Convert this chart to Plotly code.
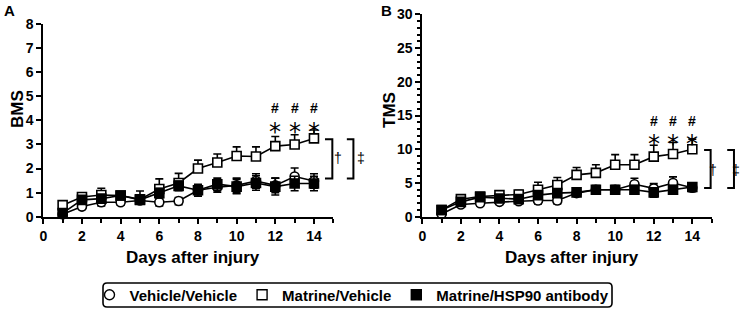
import plotly.graph_objects as go

days = list(range(1, 15))

# Panel A: BMS
bms_veh_veh = [0.1, 0.42, 0.6, 0.6, 0.67, 0.6, 0.65, 1.1, 1.22, 1.3, 1.48, 1.3, 1.67, 1.48]
bms_veh_veh_err = [0.08, 0.12, 0.15, 0.12, 0.15, 0.15, 0.15, 0.2, 0.2, 0.3, 0.3, 0.3, 0.35, 0.3]
bms_mat_veh = [0.48, 0.82, 0.9, 0.88, 0.72, 1.15, 1.4, 2.0, 2.25, 2.52, 2.5, 2.93, 3.0, 3.25]
bms_mat_veh_err = [0.1, 0.12, 0.28, 0.15, 0.35, 0.42, 0.4, 0.35, 0.35, 0.38, 0.4, 0.4, 0.4, 0.35]
bms_mat_hsp = [0.15, 0.7, 0.75, 0.88, 0.7, 0.98, 1.28, 1.1, 1.35, 1.25, 1.4, 1.25, 1.38, 1.38]
bms_mat_hsp_err = [0.1, 0.12, 0.15, 0.12, 0.15, 0.2, 0.2, 0.25, 0.25, 0.3, 0.3, 0.35, 0.3, 0.3]

# Panel B: TMS
tms_veh_veh = [0.4, 1.8, 2.0, 2.2, 2.3, 2.4, 2.4, 3.5, 4.0, 4.0, 4.8, 4.2, 5.0, 4.3]
tms_veh_veh_err = [0.3, 0.4, 0.4, 0.4, 0.4, 0.5, 0.5, 0.5, 0.6, 0.6, 0.9, 0.7, 0.9, 0.6]
tms_mat_veh = [1.0, 2.6, 3.0, 3.2, 3.3, 4.0, 4.7, 6.2, 6.5, 7.7, 7.7, 8.9, 9.3, 10.0]
tms_mat_veh_err = [0.3, 0.4, 0.5, 0.5, 0.6, 1.1, 1.1, 1.1, 1.2, 1.5, 1.5, 1.7, 1.7, 1.5]
tms_mat_hsp = [1.0, 2.2, 2.9, 2.7, 2.6, 3.2, 3.5, 3.6, 4.0, 4.0, 4.0, 3.6, 4.0, 4.4]
tms_mat_hsp_err = [0.3, 0.4, 0.4, 0.4, 0.4, 0.5, 0.5, 0.5, 0.5, 0.5, 0.6, 0.7, 0.6, 0.5]

series_names = ["Vehicle/Vehicle", "Matrine/Vehicle", "Matrine/HSP90 antibody"]
sig_days = [12, 13, 14]
x_ticks = [0, 2, 4, 6, 8, 10, 12, 14]
x_minor = [1, 3, 5, 7, 9, 11, 13, 15]

W, H = 748, 315
FONT = "Liberation Sans, Arial, Helvetica, sans-serif"

# pixel geometry of the two plot areas
A_X = (43.3, 333.3)
A_Y = (216.7, 24.0)
B_X = (422.3, 711.6)
B_Y = (216.7, 14.3)


def px_dom_x(a, b):
    return [a / W, b / W]


def px_dom_y(bottom, top):
    return [(H - bottom) / H, (H - top) / H]


fig = go.Figure()

styles = [
    dict(symbol="circle", color="white"),
    dict(symbol="square", color="white"),
    dict(symbol="square", color="black"),
]


def add_series(xa, ya, ys, errs, up_only):
    for name, y, e, st, uo in zip(series_names, ys, errs, styles, up_only):
        fig.add_trace(go.Scatter(
            x=days, y=y, xaxis=xa, yaxis=ya, name=name, showlegend=False,
            mode="lines+markers", cliponaxis=False,
            line=dict(color="black", width=1.6),
            marker=dict(symbol=st["symbol"], size=9, color=st["color"],
                        line=dict(color="black", width=1.6)),
            error_y=dict(type="data", array=e,
                         arrayminus=[0] * len(e) if uo else e,
                         symmetric=False, color="black", thickness=1.6, width=4),
        ))


add_series("x", "y", [bms_veh_veh, bms_mat_veh, bms_mat_hsp],
           [bms_veh_veh_err, bms_mat_veh_err, bms_mat_hsp_err], [False, True, False])
add_series("x2", "y2", [tms_veh_veh, tms_mat_veh, tms_mat_hsp],
           [tms_veh_veh_err, tms_mat_veh_err, tms_mat_hsp_err], [False, True, False])

# legend-only entries (markers only, as in the reference)
for name, st in zip(series_names, styles):
    fig.add_trace(go.Scatter(
        x=[None], y=[None], mode="markers", name=name, showlegend=True,
        marker=dict(symbol=st["symbol"], size=10, color=st["color"],
                    line=dict(color="black", width=1.4)),
    ))

tickfont = dict(family=FONT, size=14, color="black", weight="bold")
common_ax = dict(showline=True, linecolor="black", linewidth=2, ticks="outside",
                 ticklen=5, tickwidth=2, tickcolor="black", showgrid=False,
                 zeroline=False, tickfont=tickfont, fixedrange=True, automargin=False)

fig.update_layout(
    width=W, height=H, margin=dict(l=0, r=0, t=0, b=0, autoexpand=False),
    paper_bgcolor="white", plot_bgcolor="white",
    xaxis=dict(domain=px_dom_x(*A_X), range=[0, 15], tickvals=x_ticks,
               minor=dict(tickvals=x_minor, ticks="outside", ticklen=4, tickwidth=2, tickcolor="black"),
               anchor="y", **common_ax),
    yaxis=dict(domain=px_dom_y(*A_Y), range=[0, 8], dtick=1, anchor="x", **common_ax),
    xaxis2=dict(domain=px_dom_x(*B_X), range=[0, 15], tickvals=x_ticks,
                minor=dict(tickvals=x_minor, ticks="outside", ticklen=4, tickwidth=2, tickcolor="black"),
                anchor="y2", **common_ax),
    yaxis2=dict(domain=px_dom_y(*B_Y), range=[0, 30], dtick=5,
                minor=dict(dtick=1, ticks="outside", ticklen=3, tickwidth=1.5, tickcolor="black"),
                anchor="x2", **common_ax),
    legend=dict(orientation="h", x=352 / W, y=(H - 295) / H, xanchor="center", yanchor="middle",
                font=dict(family=FONT, size=15, color="black", weight="bold"),
                bgcolor="rgba(0,0,0,0)", borderwidth=0, itemwidth=30,
                itemclick=False, itemdoubleclick=False),
)

ann = []


def text(xp, yp, s, size, bold=True, angle=0):
    ann.append(dict(x=xp / W, y=(H - yp) / H, xref="paper", yref="paper", text=s,
                    showarrow=False, textangle=angle, xanchor="center", yanchor="middle",
                    font=dict(family=FONT, size=size, color="black",
                              weight="bold" if bold else "normal")))


# panel letters and axis titles
text(9, 10, "A", 15)
text(387, 10, "B", 15)
text(17, 109, "BMS", 17, angle=-90)
text(389, 110, "TMS", 17, angle=-90)
text(193, 257, "Days after injury", 17)
text(572, 257, "Days after injury", 17)

fig.update_layout(annotations=ann)

# significance marks in data coordinates
for d in sig_days:
    fig.add_annotation(x=d, y=3.8, xref="x", yref="y", text="*", showarrow=False,
                       font=dict(family="DejaVu Sans", size=24, color="black"), yshift=-7)
    fig.add_annotation(x=d, y=4.5, xref="x", yref="y", text="#", showarrow=False,
                       font=dict(family=FONT, size=14, color="black", weight="bold"))
    fig.add_annotation(x=d, y=11.8, xref="x2", yref="y2", text="*", showarrow=False,
                       font=dict(family="DejaVu Sans", size=24, color="black"), yshift=-7)
    fig.add_annotation(x=d, y=14.2, xref="x2", yref="y2", text="#", showarrow=False,
                       font=dict(family=FONT, size=14, color="black", weight="bold"))


# brackets (paper coords so they are not clipped to the plot area)
def to_paper(xv, yv, X, Y, ymax):
    xp = X[0] + (X[1] - X[0]) * xv / 15.0
    yp = Y[0] - (Y[0] - Y[1]) * yv / ymax
    return xp / W, (H - yp) / H


def bracket(x0, x1, y0, y1, X, Y, ymax):
    a = to_paper(x0, y1, X, Y, ymax)
    b = to_paper(x1, y1, X, Y, ymax)
    c = to_paper(x1, y0, X, Y, ymax)
    d = to_paper(x0, y0, X, Y, ymax)
    path = f"M {a[0]},{a[1]} L {b[0]},{b[1]} L {c[0]},{c[1]} L {d[0]},{d[1]}"
    fig.add_shape(type="path", path=path, xref="paper", yref="paper",
                  line=dict(color="black", width=2))


def mark(xv, yv, s, X, Y, ymax):
    p = to_paper(xv, yv, X, Y, ymax)
    fig.add_annotation(x=p[0], y=p[1], xref="paper", yref="paper", text=s, showarrow=False,
                       font=dict(family=FONT, size=14, color="black"))


bracket(14.57, 14.95, 1.59, 3.22, A_X, A_Y, 8)
mark(15.26, 2.45, "†", A_X, A_Y, 8)
bracket(15.7, 16.04, 1.59, 3.22, A_X, A_Y, 8)
mark(16.44, 2.45, "‡", A_X, A_Y, 8)

bracket(14.61, 14.95, 4.25, 9.9, B_X, B_Y, 30)
mark(15.39, 6.9, "†", B_X, B_Y, 30)
bracket(15.81, 16.16, 4.25, 9.9, B_X, B_Y, 30)
mark(16.6, 6.9, "‡", B_X, B_Y, 30)

# rounded legend frame
x0, x1, y0, y1, r = 103 / W, 612 / W, (H - 307) / H, (H - 283) / H, 4
rx, ry = r / W, r / H
frame = (f"M {x0+rx},{y1} L {x1-rx},{y1} Q {x1},{y1} {x1},{y1-ry} L {x1},{y0+ry} "
         f"Q {x1},{y0} {x1-rx},{y0} L {x0+rx},{y0} Q {x0},{y0} {x0},{y0+ry} "
         f"L {x0},{y1-ry} Q {x0},{y1} {x0+rx},{y1} Z")
fig.add_shape(type="path", path=frame, xref="paper", yref="paper",
              line=dict(color="black", width=1.6))

fig.write_html("out.html", config={"displayModeBar": False},
               post_script="document.body.style.margin='0';")
